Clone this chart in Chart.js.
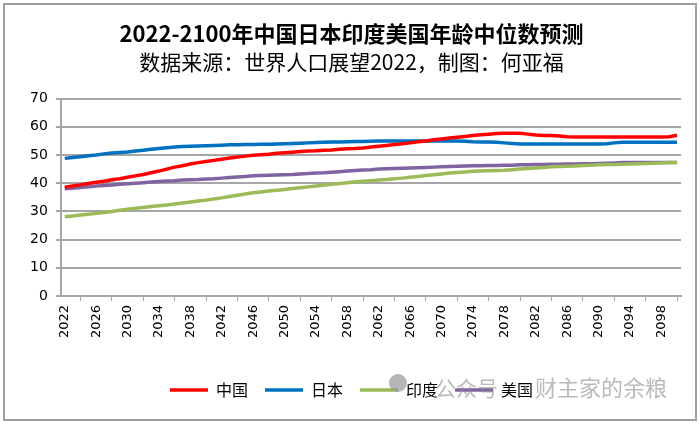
<!DOCTYPE html>
<html>
<head>
<meta charset="utf-8">
<script src="https://cdn.jsdelivr.net/npm/chart.js"></script>
<style>
  html, body { margin: 0; padding: 0; background: #fff; }
  #wrap { position: relative; width: 700px; height: 424px; }
</style>
</head>
<body>
<div id="wrap"><canvas id="myChart" width="700" height="424"></canvas></div>
<script>
  // years 2022..2100
  const years = [];
  for (let y = 2022; y <= 2100; y++) years.push(String(y));

  const china = [38.6, 39.0, 39.4, 39.9, 40.3, 40.7, 41.2, 41.6, 42.1, 42.6,
    43.1, 43.7, 44.3, 45.0, 45.7, 46.2, 46.8, 47.3, 47.7, 48.1,
    48.5, 48.9, 49.3, 49.6, 49.9, 50.1, 50.3, 50.6, 50.8, 51.0,
    51.2, 51.4, 51.5, 51.7, 51.8, 52.0, 52.2, 52.3, 52.5, 52.8,
    53.1, 53.4, 53.7, 54.0, 54.3, 54.7, 55.0, 55.4, 55.7, 56.0,
    56.3, 56.6, 56.9, 57.2, 57.4, 57.6, 57.7, 57.7, 57.7, 57.4,
    57.1, 56.9, 56.9, 56.7, 56.5, 56.4, 56.4, 56.4, 56.4, 56.4,
    56.4, 56.4, 56.4, 56.4, 56.4, 56.4, 56.4, 56.5, 57.0];

  const japan = [48.8, 49.1, 49.4, 49.7, 50.0, 50.4, 50.7, 50.9, 51.1, 51.4,
    51.7, 52.0, 52.3, 52.6, 52.8, 53.0, 53.1, 53.2, 53.3, 53.4,
    53.5, 53.6, 53.6, 53.7, 53.7, 53.8, 53.8, 53.9, 54.0, 54.1,
    54.2, 54.3, 54.4, 54.5, 54.6, 54.6, 54.7, 54.8, 54.8, 54.9,
    55.0, 55.0, 55.0, 55.0, 55.0, 55.0, 55.0, 55.0, 55.0, 55.0,
    55.0, 54.9, 54.7, 54.6, 54.6, 54.5, 54.3, 54.1, 53.9, 53.9,
    53.9, 53.9, 53.9, 53.9, 53.9, 53.9, 53.9, 53.9, 53.9, 54.0,
    54.3, 54.5, 54.5, 54.5, 54.5, 54.5, 54.5, 54.5, 54.5];

  const india = [28.1, 28.4, 28.7, 29.0, 29.3, 29.6, 30.0, 30.4, 30.8, 31.1,
    31.4, 31.7, 32.0, 32.3, 32.6, 33.0, 33.3, 33.7, 34.0, 34.4,
    34.8, 35.3, 35.7, 36.2, 36.6, 36.9, 37.2, 37.5, 37.8, 38.1,
    38.4, 38.7, 39.0, 39.3, 39.6, 39.9, 40.2, 40.5, 40.7, 40.9,
    41.1, 41.3, 41.6, 41.8, 42.1, 42.4, 42.7, 43.0, 43.3, 43.6,
    43.8, 44.0, 44.2, 44.3, 44.4, 44.5, 44.6, 44.8, 45.0, 45.2,
    45.4, 45.6, 45.8, 45.9, 46.0, 46.1, 46.3, 46.4, 46.5, 46.6,
    46.6, 46.7, 46.8, 46.9, 47.0, 47.1, 47.2, 47.3, 47.3];

  const usa = [38.0, 38.2, 38.5, 38.7, 39.0, 39.2, 39.4, 39.6, 39.8, 40.0,
    40.2, 40.4, 40.6, 40.8, 40.9, 41.1, 41.2, 41.3, 41.5, 41.6,
    41.8, 42.0, 42.2, 42.4, 42.6, 42.7, 42.8, 42.9, 43.0, 43.1,
    43.3, 43.4, 43.6, 43.7, 43.9, 44.1, 44.3, 44.5, 44.7, 44.8,
    45.0, 45.1, 45.2, 45.3, 45.4, 45.5, 45.6, 45.7, 45.8, 45.9,
    46.0, 46.1, 46.2, 46.2, 46.3, 46.3, 46.4, 46.4, 46.5, 46.5,
    46.6, 46.6, 46.7, 46.7, 46.8, 46.8, 46.9, 46.9, 47.0, 47.1,
    47.2, 47.3, 47.3, 47.3, 47.3, 47.3, 47.3, 47.3, 47.3];

  const seriesNames = ['中国', '日本', '印度', '美国'];
  const seriesColors = ['#FF0000', '#0070C0', '#9BBB59', '#8064A2'];
  const yTicks = [0, 10, 20, 30, 40, 50, 60, 70];

  const cjk = '"Noto Sans CJK SC", "Noto Sans", sans-serif';
  const gridGray = '#A6A6A6';

  // frame + watermark
  const decor = {
    id: 'decor',
    beforeDraw(chart) {
      const c = chart.ctx;
      c.save();
      c.fillStyle = '#fff';
      c.fillRect(0, 0, chart.width, chart.height);
      c.strokeStyle = '#A0A0A0';
      c.lineWidth = 2;
      c.strokeRect(4, 4, 692, 416);
      c.restore();
    },
    afterDraw(chart) {
      const c = chart.ctx;
      c.save();
      c.fillStyle = 'rgba(150,150,150,0.7)';
      c.beginPath();
      c.arc(398, 383, 9, 0, Math.PI * 2);
      c.fill();
      c.fillStyle = 'rgba(140,140,140,0.6)';
      c.textBaseline = 'middle';
      c.font = '21px ' + cjk;
      c.fillText('公众号', 435, 388);
      c.fillText('·', 515, 388);
      c.font = '22px ' + cjk;
      c.fillText('财主家的余粮', 535, 388);
      c.restore();
    }
  };

  const datasets = [china, japan, india, usa].map((d, i) => ({
    label: seriesNames[i],
    data: d,
    borderColor: seriesColors[i],
    backgroundColor: seriesColors[i],
    borderWidth: 3.5,
    pointRadius: 0,
    pointStyle: 'line',
    tension: 0,
    fill: false
  }));

  new Chart(document.getElementById('myChart'), {
    type: 'line',
    data: { labels: years, datasets: datasets },
    plugins: [decor],
    options: {
      responsive: false,
      animation: false,
      layout: { padding: { top: 14, left: 22, right: 19, bottom: 16 } },
      plugins: {
        title: {
          display: true,
          text: '2022-2100年中国日本印度美国年龄中位数预测',
          color: '#000',
          font: { family: cjk, size: 22, weight: 'bold' },
          padding: { top: 6, bottom: 3 }
        },
        subtitle: {
          display: true,
          text: '数据来源：世界人口展望2022，制图：何亚福',
          color: '#000',
          font: { family: cjk, size: 21 },
          padding: { top: 0, bottom: 24 }
        },
        legend: {
          position: 'bottom',
          labels: {
            usePointStyle: true,
            pointStyleWidth: 38,
            boxHeight: 10,
            padding: 17,
            color: '#000',
            font: { family: cjk, size: 16 }
          }
        },
        tooltip: { enabled: false }
      },
      scales: {
        x: {
          offset: true,
          afterFit: (scale) => { scale.height = 69; },
          grid: {
            offset: true,
            drawOnChartArea: false,
            color: gridGray,
            lineWidth: 1,
            tickLength: 5
          },
          border: { color: gridGray, width: 2 },
          ticks: {
            autoSkip: false,
            maxRotation: 90,
            minRotation: 90,
            color: '#000',
            font: { family: '"DejaVu Sans", sans-serif', size: 13 },
            padding: 4,
            callback: function (v, i) {
              return (i % 4 === 0) ? years[i] : null;
            }
          }
        },
        y: {
          min: yTicks[0],
          max: yTicks[yTicks.length - 1],
          afterBuildTicks: (axis) => { axis.ticks = yTicks.map(v => ({ value: v })); },
          grid: { color: gridGray, lineWidth: 2, tickLength: 5 },
          border: { color: gridGray, width: 2 },
          ticks: {
            color: '#000',
            font: { family: '"DejaVu Sans", sans-serif', size: 14 },
            padding: 8
          }
        }
      }
    }
  });
</script>
</body>
</html>
